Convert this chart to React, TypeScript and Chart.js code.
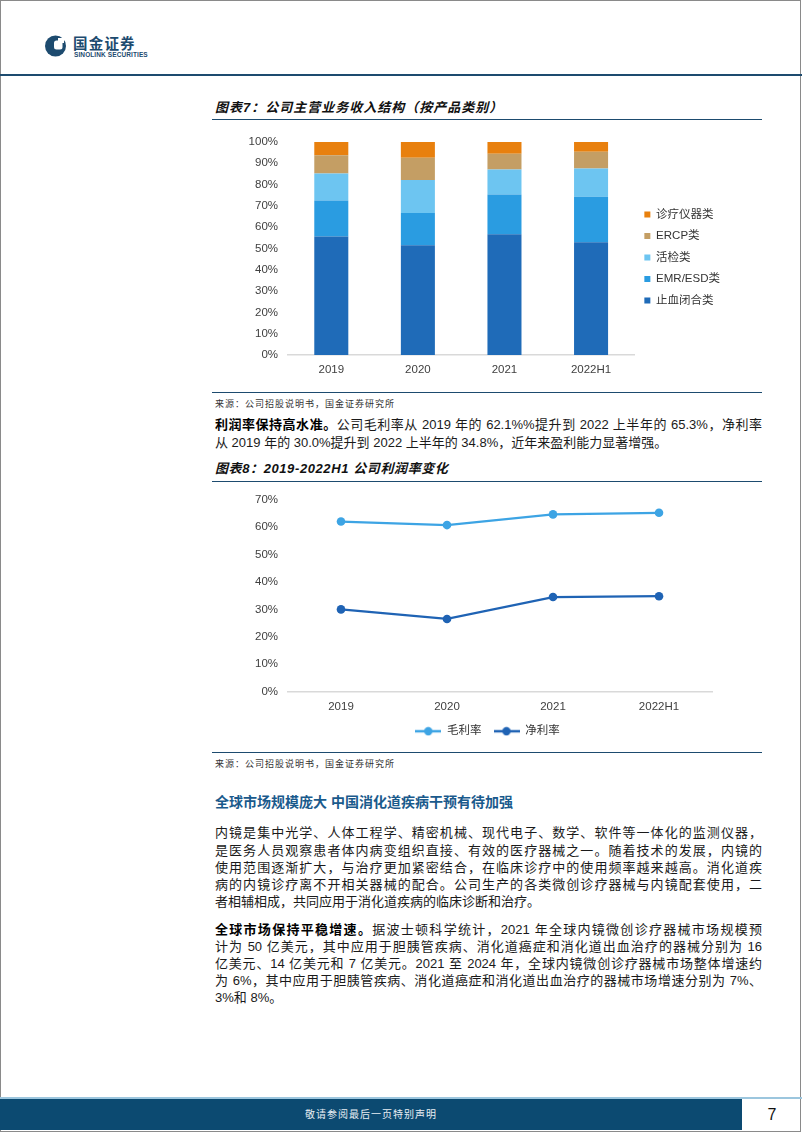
import React, { useEffect, useRef } from "react";
import { Chart, registerables } from "chart.js";

Chart.register(...registerables);

// ---------- data ----------
const years = ["2019", "2020", "2021", "2022H1"];
const productNames = ["止血闭合类", "EMR/ESD类", "活检类", "ERCP类", "诊疗仪器类"];
const hemostasisShare = [55.6, 51.5, 56.7, 52.9];
const emrEsdShare = [16.9, 15.1, 18.6, 21.4];
const biopsyShare = [12.7, 15.5, 11.7, 13.2];
const ercpShare = [8.5, 10.5, 7.4, 7.9];
const instrumentShare = [6.3, 7.4, 5.6, 4.6];

const marginNames = ["毛利率", "净利率"];
const grossMargin = [62.1, 60.8, 64.7, 65.3];
const netMargin = [30.0, 26.5, 34.5, 34.8];

// ---------- styles ----------
const FONT = "'Liberation Sans', 'Noto Sans CJK SC', sans-serif";
const TICK_COLOR = "#404040";
const productColors = ["#1F6BB8", "#2A9CE1", "#6DC5F1", "#C49E64", "#E8800E"];
const marginColors = ["#3DA4E4", "#1F63B4"];
const NAVY = "#1D4B6F";

Chart.defaults.font.family = FONT;

function legendIcon(color: string) {
  const c = document.createElement("canvas");
  c.width = 26;
  c.height = 10;
  const ctx = c.getContext("2d")!;
  ctx.strokeStyle = color;
  ctx.lineWidth = 2.5;
  ctx.beginPath();
  ctx.moveTo(0, 5);
  ctx.lineTo(26, 5);
  ctx.stroke();
  ctx.fillStyle = color;
  ctx.beginPath();
  ctx.arc(13, 5, 4.2, 0, Math.PI * 2);
  ctx.fill();
  return c;
}

function RevenueChart() {
  const ref = useRef<HTMLCanvasElement>(null);
  useEffect(() => {
    const series = [hemostasisShare, emrEsdShare, biopsyShare, ercpShare, instrumentShare];
    const chart = new Chart(ref.current!, {
      type: "bar",
      data: {
        labels: years,
        datasets: series.map((d, i) => ({
          label: productNames[i],
          data: d,
          backgroundColor: productColors[i],
          borderWidth: 0,
          categoryPercentage: 1,
          barPercentage: 0.393,
        })),
      },
      options: {
        animation: false,
        responsive: false,
        maintainAspectRatio: false,
        layout: { padding: { top: 15, right: 32, bottom: 10, left: 0 } },
        plugins: {
          legend: {
            position: "right",
            reverse: true,
            labels: {
              boxWidth: 6,
              boxHeight: 6,
              padding: 10,
              color: "#333",
              font: { size: 11.5, family: FONT },
            },
          },
          tooltip: { enabled: false },
        },
        scales: {
          x: {
            stacked: true,
            grid: { display: false, drawTicks: false },
            border: { display: true, color: "#d9d9d9", width: 1.5 },
            ticks: { color: TICK_COLOR, font: { size: 11.5, family: FONT }, padding: 8 },
            afterFit: (s: any) => {
              s.height = 20;
            },
          },
          y: {
            stacked: true,
            min: 0,
            max: 100,
            grid: { display: false, drawTicks: false },
            border: { display: false },
            ticks: {
              stepSize: 10,
              color: TICK_COLOR,
              font: { size: 11.5, family: FONT },
              padding: 10,
              callback: (v: any) => v + "%",
            },
            afterFit: (s: any) => {
              s.width = 76;
            },
          },
        },
      },
    });
    return () => chart.destroy();
  }, []);
  return (
    <canvas
      ref={ref}
      width={550}
      height={260}
      style={{ position: "absolute", left: 212, top: 125, width: 550, height: 260 }}
    />
  );
}

function MarginChart() {
  const ref = useRef<HTMLCanvasElement>(null);
  useEffect(() => {
    const series = [grossMargin, netMargin];
    const chart = new Chart(ref.current!, {
      type: "line",
      data: {
        labels: years,
        datasets: series.map((d, i) => ({
          label: marginNames[i],
          data: d,
          borderColor: marginColors[i],
          backgroundColor: marginColors[i],
          pointBackgroundColor: marginColors[i],
          pointBorderColor: marginColors[i],
          borderWidth: 2.25,
          pointRadius: 4.3,
          pointBorderWidth: 0,
          tension: 0,
          fill: false,
        })),
      },
      options: {
        animation: false,
        responsive: false,
        maintainAspectRatio: false,
        layout: { padding: { top: 14, right: 0, bottom: 0, left: 0 } },
        plugins: {
          legend: {
            position: "bottom",
            labels: {
              usePointStyle: true,
              pointStyleWidth: 26,
              padding: 12,
              color: "#333",
              font: { size: 11.5, family: FONT },
              generateLabels: (c: any) =>
                Chart.defaults.plugins.legend.labels
                  .generateLabels(c)
                  .map((item: any) => ({ ...item, pointStyle: legendIcon(marginColors[item.datasetIndex]) })),
            },
          },
          tooltip: { enabled: false },
        },
        scales: {
          x: {
            offset: true,
            grid: { display: false, drawTicks: false },
            border: { display: true, color: "#d9d9d9", width: 1.5 },
            ticks: { color: TICK_COLOR, font: { size: 11.5, family: FONT }, padding: 8 },
            afterFit: (s: any) => {
              s.height = 22;
            },
          },
          y: {
            min: 0,
            max: 70,
            grid: { display: false, drawTicks: false },
            border: { display: false },
            ticks: {
              stepSize: 10,
              color: TICK_COLOR,
              font: { size: 11.5, family: FONT },
              padding: 10,
              callback: (v: any) => v + "%",
            },
            afterFit: (s: any) => {
              s.width = 76;
            },
          },
          yRight: {
            type: "linear",
            position: "right",
            min: 0,
            max: 1,
            grid: { display: false, drawTicks: false },
            border: { display: false },
            ticks: { display: false },
            afterFit: (s: any) => {
              s.width = 51;
            },
          },
        },
      },
    } as any);
    return () => chart.destroy();
  }, []);
  return (
    <canvas
      ref={ref}
      width={551}
      height={264}
      style={{ position: "absolute", left: 212, top: 483, width: 551, height: 264 }}
    />
  );
}

const abs = (left: number, top: number, extra: any = {}) => ({ position: "absolute", left, top, ...extra } as any);

function Rule({ top }: { top: number }) {
  return <div style={abs(212, top, { width: 550, height: 1.5, background: NAVY })} />;
}

function JLine({ children, last }: { children: any; last?: boolean }) {
  return (
    <div style={{ textAlign: "justify", textAlignLast: last ? "left" : "justify", width: 547 }}>{children}</div>
  );
}

const bodyText = (top: number, lh: number) =>
  abs(215, top, { width: 547, fontSize: 13, lineHeight: lh + "px", color: "#1a1a1a", fontFamily: FONT });

export default function App() {
  useEffect(() => {
    document.body.style.margin = "0";
  }, []);
  return (
    <div
      style={{
        position: "relative",
        width: 802,
        height: 1133,
        background: "#fff",
        fontFamily: FONT,
        overflow: "hidden",
      }}
    >
      {/* page frame */}
      <div style={abs(0, 0, { width: 799, height: 1130, border: "1.5px solid #8a8a8a" })} />

      {/* header */}
      <svg style={abs(44, 34)} width={24} height={24} viewBox="0 0 24 24">
        <circle cx={11.5} cy={12} r={10.5} fill={NAVY} />
        <rect x={10} y={6.5} width={8.5} height={9} rx={2.5} fill="#fff" />
        <rect x={14} y={4} width={6} height={5} fill="#fff" />
      </svg>
      <div style={abs(73, 35, { fontSize: 14.5, fontWeight: 700, color: NAVY, letterSpacing: 1.2, lineHeight: "18px" })}>
        国金证券
      </div>
      <div style={abs(74, 51, { fontSize: 6.5, fontWeight: 700, color: NAVY, lineHeight: "8px", letterSpacing: 0.1 })}>
        SINOLINK SECURITIES
      </div>
      <div style={abs(0, 74, { width: 802, height: 2, background: NAVY })} />

      {/* chart 7 */}
      <div
        style={abs(215, 100, {
          fontSize: 13,
          lineHeight: "16px",
          fontWeight: 700,
          fontStyle: "italic",
          letterSpacing: 1,
          color: "#111",
        })}
      >
        图表7：公司主营业务收入结构（按产品类别）
      </div>
      <Rule top={118.5} />
      <RevenueChart />
      <Rule top={391.5} />
      <div style={abs(215, 397, { fontSize: 9, lineHeight: "14px", letterSpacing: 1, color: "#333" })}>
        来源：公司招股说明书，国金证券研究所
      </div>

      <div style={bodyText(416, 18)}>
        <JLine>
          <b style={{ color: "#000" }}>利润率保持高水准。</b>公司毛利率从 2019 年的 62.1%%提升到 2022 上半年的 65.3%，净利率
        </JLine>
        <JLine last>从 2019 年的 30.0%提升到 2022 上半年的 34.8%，近年来盈利能力显著增强。</JLine>
      </div>

      {/* chart 8 */}
      <div
        style={abs(215, 461, {
          fontSize: 13,
          lineHeight: "16px",
          fontWeight: 700,
          fontStyle: "italic",
          letterSpacing: 0.6,
          color: "#111",
        })}
      >
        图表8：2019-2022H1 公司利润率变化
      </div>
      <Rule top={480.5} />
      <MarginChart />
      <Rule top={751.5} />
      <div style={abs(215, 757, { fontSize: 9, lineHeight: "14px", letterSpacing: 1, color: "#333" })}>
        来源：公司招股说明书，国金证券研究所
      </div>

      {/* section */}
      <div style={abs(215, 793, { fontSize: 14, lineHeight: "18px", fontWeight: 700, color: "#1A5A8C" })}>
        全球市场规模庞大 中国消化道疾病干预有待加强
      </div>
      <div style={bodyText(824.4, 17.25)}>
        <JLine>内镜是集中光学、人体工程学、精密机械、现代电子、数学、软件等一体化的监测仪器，</JLine>
        <JLine>是医务人员观察患者体内病变组织直接、有效的医疗器械之一。随着技术的发展，内镜的</JLine>
        <JLine>使用范围逐渐扩大，与治疗更加紧密结合，在临床诊疗中的使用频率越来越高。消化道疾</JLine>
        <JLine>病的内镜诊疗离不开相关器械的配合。公司生产的各类微创诊疗器械与内镜配套使用，二</JLine>
        <JLine last>者相辅相成，共同应用于消化道疾病的临床诊断和治疗。</JLine>
      </div>
      <div style={bodyText(920.5, 17)}>
        <JLine>
          <b style={{ color: "#000" }}>全球市场保持平稳增速。</b>据波士顿科学统计，2021 年全球内镜微创诊疗器械市场规模预
        </JLine>
        <JLine>计为 50 亿美元，其中应用于胆胰管疾病、消化道癌症和消化道出血治疗的器械分别为 16</JLine>
        <JLine>亿美元、14 亿美元和 7 亿美元。2021 至 2024 年，全球内镜微创诊疗器械市场整体增速约</JLine>
        <JLine>为 6%，其中应用于胆胰管疾病、消化道癌症和消化道出血治疗的器械市场增速分别为 7%、</JLine>
        <JLine last>3%和 8%。</JLine>
      </div>

      {/* footer */}
      <div style={abs(0, 1097, { width: 802, height: 1.5, background: "#9cc6de" })} />
      <div style={abs(0, 1099, { width: 742, height: 31, background: "#0C4A71" })} />
      <div
        style={abs(0, 1099, {
          width: 742,
          height: 31,
          lineHeight: "31px",
          textAlign: "center",
          color: "#e8eef3",
          fontSize: 10,
          letterSpacing: 1,
        })}
      >
        敬请参阅最后一页特别声明
      </div>
      <div style={abs(742, 1099, { width: 60, height: 31, lineHeight: "31px", textAlign: "center", fontSize: 16, color: "#111" })}>
        7
      </div>
    </div>
  );
}
